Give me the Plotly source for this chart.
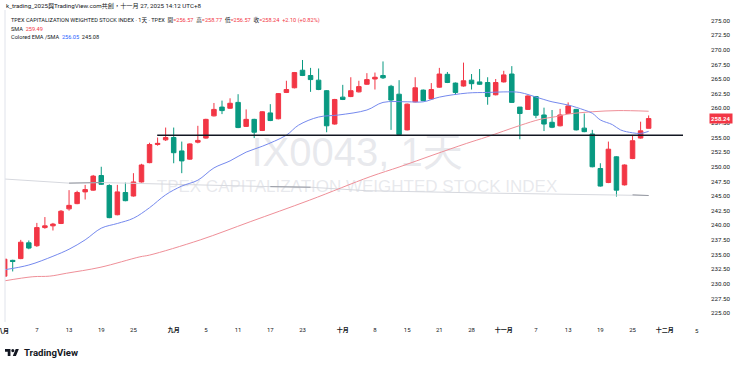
import plotly.graph_objects as go
import pandas as pd

# ---------------- calendar (TPEx trading days) ----------------
holidays = ["2025-09-29", "2025-10-06", "2025-10-10", "2025-10-24"]
calendar = pd.bdate_range("2025-08-01", "2025-12-05", freq="C", holidays=holidays)
day_index = {d.strftime("%Y-%m-%d"): i for i, d in enumerate(calendar)}

# ---------------- daily OHLC ----------------
opens = [231.3, 234.0, 234.3, 237.0, 236.5, 239.6, 239.9, 240.3, 242.8, 243.7,
         245.7, 246.0, 248.5, 246.8, 241.8, 245.6, 245.0, 247.4, 250.7, 253.8,
         254.6, 255.0, 252.7, 251.3, 254.2, 254.9, 258.7, 260.2, 260.0, 261.0,
         256.9, 258.1, 256.2, 259.2, 258.2, 262.7, 263.5, 266.5, 265.6, 264.8,
         263.0, 257.3, 261.9, 262.0, 262.8, 264.1, 265.0, 265.6, 263.75, 262.4,
         256.3, 261.1, 263.1, 261.6, 263.6, 265.8, 264.3, 263.8, 264.8, 264.5,
         264.4, 262.3, 264.5, 265.85, 260.2, 259.8, 262.0, 258.85, 257.6, 257.0,
         259.1, 259.8, 256.6, 255.6, 249.7, 247.3, 251.7, 246.9, 251.4, 254.9,
         256.57]
highs = [234.3, 234.1, 237.5, 237.4, 240.4, 241.4, 240.4, 242.6, 246.0, 245.9,
         246.9, 248.6, 250.0, 247.0, 246.9, 247.3, 248.9, 250.5, 254.1, 255.0,
         256.7, 256.7, 254.3, 254.0, 257.0, 258.2, 260.9, 261.3, 261.7, 262.4,
         259.8, 258.2, 259.5, 260.7, 262.6, 264.7, 266.2, 268.25, 266.9, 266.8,
         263.1, 261.6, 264.0, 265.3, 264.7, 266.0, 266.1, 268.0, 264.0, 264.8,
         260.8, 265.3, 263.2, 264.3, 266.9, 266.2, 264.4, 267.8, 265.85, 266.7,
         265.3, 265.0, 266.4, 267.2, 260.2, 262.2, 262.1, 260.1, 259.7, 259.9,
         261.0, 259.9, 259.1, 256.3, 250.6, 254.3, 251.8, 250.4, 255.4, 257.7,
         258.77]
lows = [231.2, 232.1, 234.2, 235.9, 236.3, 239.4, 239.1, 240.2, 242.5, 243.6,
        244.4, 245.9, 246.9, 241.2, 241.7, 244.1, 244.9, 247.3, 250.6, 253.6,
        254.4, 250.6, 248.9, 251.2, 254.0, 254.8, 258.6, 259.0, 259.9, 256.6,
        256.8, 254.9, 256.1, 257.8, 258.1, 262.6, 263.4, 265.5, 262.8, 263.1,
        255.9, 257.2, 261.4, 261.9, 262.7, 264.0, 263.2, 265.0, 256.3, 255.4,
        256.2, 261.0, 261.2, 261.5, 263.5, 264.3, 262.3, 263.7, 263.2, 264.0,
        260.6, 262.2, 264.4, 260.9, 254.7, 259.7, 258.3, 256.1, 256.6, 256.9,
        259.0, 256.2, 255.9, 249.9, 246.6, 247.2, 244.9, 246.8, 251.3, 254.8,
        256.57]
closes = [234.2, 233.8, 237.1, 236.1, 239.6, 239.9, 240.2, 242.4, 243.4, 245.6,
          246.1, 248.4, 247.0, 241.3, 245.7, 244.2, 247.4, 250.3, 253.8, 254.0,
          255.0, 252.4, 251.0, 253.9, 254.5, 258.1, 259.8, 259.6, 260.85, 256.7,
          258.1, 255.9, 259.4, 257.9, 262.5, 263.2, 266.1, 265.6, 264.9, 263.2,
          257.0, 261.5, 261.5, 263.0, 263.7, 264.9, 265.3, 265.2, 261.4, 255.5,
          260.7, 263.5, 261.3, 263.2, 265.85, 264.4, 262.7, 264.7, 264.2, 264.1,
          262.0, 264.4, 265.7, 261.0, 259.1, 262.1, 258.8, 257.3, 256.75, 258.85,
          260.4, 256.3, 256.0, 250.0, 246.7, 253.0, 246.0, 250.3, 254.45, 256.14,
          258.24]

# ---------------- indicator lines (read at bar positions) ----------------
ema_idx = [0, 3, 6, 8, 10, 12, 14, 16, 18, 20, 22, 24, 26, 28, 30, 32, 35, 36.5,
           39, 41.5, 45, 47, 50, 52, 54, 57.5, 60, 62.5, 64, 66.5, 68, 70, 72,
           73, 74, 75.5, 76.5, 78, 79, 80]
ema_val = [232.4, 233.2, 234.7, 235.9, 237.5, 239.5, 240.3, 241.2, 243.0, 245.2,
           246.7, 247.7, 249.8, 251.0, 252.5, 253.5, 255.4, 257.1, 258.5, 258.85,
           259.7, 261.0, 261.1, 261.1, 261.9, 262.6, 262.7, 262.8, 262.7, 261.7,
           261.1, 260.55, 259.7, 259.15, 258.0, 257.2, 256.3, 255.8, 255.7, 256.05]

sma_idx = [0, 3.5, 5.6, 7.7, 11.85, 16.8, 18, 24.3, 30.5, 37.9, 45.4, 49.1, 53.2,
           57.4, 59.9, 64, 66.5, 68.4, 70, 73, 76.2, 80]
sma_val = [230.5, 231.2, 231.3, 231.8, 232.8, 234.6, 234.9, 237.5, 240.6, 244.3,
           248.3, 250.0, 252.0, 254.0, 255.1, 257.05, 258.1, 258.55, 259.0, 259.4,
           259.6, 259.49]

slow_idx = [0, 8, 12, 20, 33, 38, 45, 60, 78, 80]
slow_val = [247.9, 247.2, 247.3, 247.0, 246.6, 246.5, 245.9, 245.5, 245.2, 245.08]
slow_dark_idx = [8, 12, None, 33, 38, None, 78, 80]
slow_dark_val = [247.2, 247.3, None, 246.6, 246.5, None, 245.2, 245.08]

level_price = 255.4
level_start = "2025-08-28"

price_ticks = [225 + 2.5 * k for k in range(21)]
time_ticks = [("2025-08-07", "7"), ("2025-08-13", "13"), ("2025-08-19", "19"),
              ("2025-08-25", "25"), ("2025-09-01", "<b>九月</b>"), ("2025-09-05", "5"),
              ("2025-09-11", "11"), ("2025-09-17", "17"), ("2025-09-23", "23"),
              ("2025-10-01", "<b>十月</b>"), ("2025-10-08", "8"), ("2025-10-15", "15"),
              ("2025-10-21", "21"), ("2025-10-28", "28"), ("2025-11-03", "<b>十一月</b>"),
              ("2025-11-07", "7"), ("2025-11-13", "13"), ("2025-11-19", "19"),
              ("2025-11-25", "25"), ("2025-12-01", "<b>十二月</b>")]

# ---------------- geometry ----------------
W, H = 740, 367
PL, PR, PT, PB = 5, 683, 10, 322
X0PX, XSTEP = 4.65, 8.05
Y275, YPX = 20.5, 5.85
x_range = [(PL - X0PX) / XSTEP, (PR - X0PX) / XSTEP]
y_range = [275 - (PB - Y275) / YPX, 275 + (Y275 - PT) / YPX]


def px(xp):
    return (xp - PL) / (PR - PL)


def py(yp):
    return (PB - yp) / (PB - PT)


FONT = "Roboto, 'Noto Sans CJK TC', sans-serif"
RED, GREEN = "#f23645", "#089981"
TXT = "#131722"

xs = list(range(len(opens)))

fig = go.Figure()

# watermark (below everything)
fig.add_trace(go.Scatter(
    x=[(357 - X0PX) / XSTEP, (357 - X0PX) / XSTEP],
    y=[275 - (156 - Y275) / YPX, 275 - (188 - Y275) / YPX],
    mode="text", text=["IX0043, 1天", "TPEX CAPITALIZATION WEIGHTED STOCK INDEX"],
    textfont=dict(size=[40, 17], color="rgba(200,203,212,0.42)",
                  family="'Liberation Sans', 'Noto Sans CJK TC', sans-serif"),
    hoverinfo="skip", showlegend=False))

fig.add_trace(go.Scatter(x=slow_idx, y=slow_val, mode="lines",
                         line=dict(color="#d6d8de", width=1), hoverinfo="skip",
                         showlegend=False))
fig.add_trace(go.Scatter(x=slow_dark_idx, y=slow_dark_val, mode="lines",
                         line=dict(color="#9598a1", width=1), hoverinfo="skip",
                         showlegend=False, connectgaps=False))

fig.add_trace(go.Candlestick(
    x=xs, open=opens, high=highs, low=lows, close=closes,
    increasing=dict(line=dict(color=RED, width=1), fillcolor=RED),
    decreasing=dict(line=dict(color=GREEN, width=1), fillcolor=GREEN),
    whiskerwidth=0, showlegend=False))

fig.add_trace(go.Scatter(x=sma_idx, y=sma_val, mode="lines", line_shape="spline",
                         line=dict(color="#ef8f98", width=1), showlegend=False))
fig.add_trace(go.Scatter(x=ema_idx, y=ema_val, mode="lines", line_shape="spline",
                         line=dict(color="#7589ee", width=1), showlegend=False))

shapes = [
    dict(type="line", xref="x", yref="y", x0=day_index[level_start] - 0.05,
         x1=x_range[1] + 5, y0=level_price, y1=level_price,
         line=dict(color=TXT, width=1.5)),
    dict(type="line", xref="paper", yref="paper", x0=0, x1=0, y0=0, y1=1,
         line=dict(color="#e0e3eb", width=1)),
]

# TradingView logo mark
def logo_path():
    s, ox, oy = 0.39, 5, 347.5
    def P(u, v):
        return f"{px(ox + u * s):.5f},{py(oy + v * s):.5f}"
    a = "M" + " L".join(P(u, v) for u, v in [(14, 22), (7, 22), (7, 11), (0, 11), (0, 4), (14, 4)]) + " Z"
    b = "M" + " L".join(P(u, v) for u, v in [(28, 22), (20, 22), (27.5, 4), (35.5, 4)]) + " Z"
    return a + " " + b

shapes.append(dict(type="path", xref="paper", yref="paper", path=logo_path(),
                   fillcolor=TXT, line=dict(width=0)))
shapes.append(dict(type="circle", xref="paper", yref="paper",
                   x0=px(5 + 16 * 0.39), x1=px(5 + 24 * 0.39),
                   y0=py(347.5 + 4 * 0.39), y1=py(347.5 + 12 * 0.39),
                   fillcolor=TXT, line=dict(width=0)))

red = lambda t: f"<span style='color:{RED}'>{t}</span>"
nb = "\u00a0"
ann = [
    dict(x=px(4), y=py(6), text="k_trading_2025與TradingView.com共創，十一月 27, 2025 14:12 UTC+8",
         font=dict(size=6.2, color=TXT)),
    dict(x=px(9), y=py(20.5),
         text=("TPEX CAPITALIZATION WEIGHTED STOCK INDEX · 1天 · TPEX" + nb * 2 +
               "開" + red("=256.57") + nb * 2 + "高" + red("=258.77") + nb * 2 +
               "低" + red("=256.57") + nb * 2 + "收" + red("=258.24") + nb * 2 +
               red("+2.10 (+0.82%)")),
         font=dict(size=5.6, color=TXT)),
    dict(x=px(9), y=py(28.5), text="SMA" + nb * 2 + red("259.49"),
         font=dict(size=5.6, color=TXT)),
    dict(x=px(9), y=py(36.5),
         text="Colored EMA /SMA" + nb * 2 + "<span style='color:#2962ff'>256.05</span>" + nb * 2 + "245.08",
         font=dict(size=5.6, color=TXT)),
    dict(x=px(22), y=py(352.5), text="<b>TradingView</b>", font=dict(size=9.6, color=TXT)),
    dict(x=px(11), y=py(331), text="<b>八月</b>", xanchor="right", font=dict(size=6, color=TXT)),
    dict(x=px(X0PX + XSTEP * day_index["2025-12-05"]), y=py(331), text="5", xanchor="center",
         font=dict(size=6, color=TXT)),
    dict(x=px(709), y=258.24, yref="y", text="<b>258.24</b>", xanchor="left",
         bgcolor=RED, borderpad=1, font=dict(size=6, color="white")),
]
for a in ann:
    a.setdefault("xref", "paper")
    a.setdefault("yref", "paper")
    a.setdefault("xanchor", "left")
    a.setdefault("yanchor", "middle")
    a["showarrow"] = False

fig.update_layout(
    width=W, height=H,
    margin=dict(l=PL, r=W - PR, t=PT, b=H - PB),
    paper_bgcolor="white", plot_bgcolor="white",
    font=dict(family=FONT, color=TXT),
    boxgap=0.2,
    shapes=shapes, annotations=ann,
    showlegend=False,
    xaxis=dict(range=x_range, rangeslider=dict(visible=False), showgrid=False,
               zeroline=False, showline=False, ticks="", automargin=False,
               tickvals=[day_index[d] for d, _ in time_ticks],
               ticktext=[t for _, t in time_ticks],
               tickfont=dict(size=6, color=TXT), ticklabelstandoff=3),
    yaxis=dict(range=y_range, side="right", showgrid=False, zeroline=False,
               showline=False, ticks="", tickvals=price_ticks, automargin=False,
               ticktext=[f"{v:.2f}" for v in price_ticks],
               tickfont=dict(size=6.2, color=TXT), ticklabelstandoff=27),
)

fig.write_html("out.html", config={"displayModeBar": False},
               post_script="document.body.style.margin='0';document.body.style.padding='0';")
